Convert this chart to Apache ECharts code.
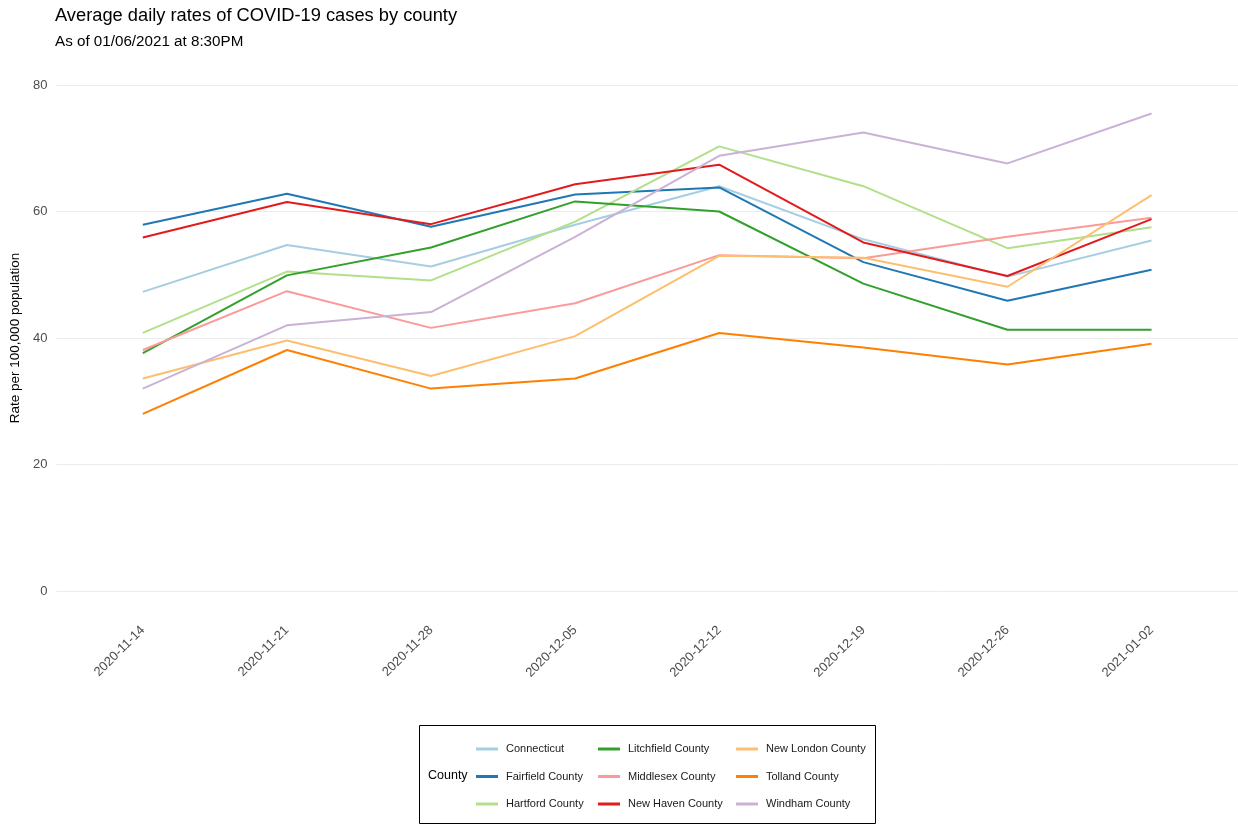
<!DOCTYPE html>
<html>
<head>
<meta charset="utf-8">
<script src="https://cdn.jsdelivr.net/npm/echarts@6/dist/echarts.min.js"></script>
<style>
  html, body { margin: 0; padding: 0; background: #fff; }
  #chart { width: 1238px; height: 825px; }
</style>
</head>
<body>
<div id="chart"></div>
<script>
// weeks on the x axis
var weeks = ['2020-11-14', '2020-11-21', '2020-11-28', '2020-12-05',
             '2020-12-12', '2020-12-19', '2020-12-26', '2021-01-02'];

var counties = ['Connecticut', 'Fairfield County', 'Hartford County',
                'Litchfield County', 'Middlesex County', 'New Haven County',
                'New London County', 'Tolland County', 'Windham County'];

var colors = ['#A6CEE3', '#1F78B4', '#B2DF8A', '#33A02C', '#FB9A99',
              '#E31A1C', '#FDBF6F', '#FF7F00', '#CAB2D6'];

// rates per 100,000
var connecticut = [47.3, 54.7, 51.3, 57.9, 64.0, 55.6, 49.7, 55.4];
var fairfield   = [57.9, 62.8, 57.6, 62.7, 63.8, 52.0, 45.9, 50.8];
var hartford    = [40.8, 50.5, 49.1, 58.4, 70.3, 64.0, 54.2, 57.5];
var litchfield  = [37.6, 49.9, 54.3, 61.6, 60.0, 48.6, 41.3, 41.3];
var middlesex   = [38.1, 47.4, 41.6, 45.5, 53.1, 52.6, 56.0, 59.0];
var newHaven    = [55.9, 61.5, 58.0, 64.3, 67.4, 55.1, 49.8, 58.8];
var newLondon   = [33.6, 39.6, 34.0, 40.3, 53.0, 52.7, 48.1, 62.6];
var tolland     = [28.0, 38.1, 32.0, 33.6, 40.8, 38.5, 35.8, 39.1];
var windham     = [32.0, 42.0, 44.1, 56.0, 68.8, 72.5, 67.6, 75.5];

var values = [connecticut, fairfield, hartford, litchfield, middlesex,
              newHaven, newLondon, tolland, windham];

var yTicks = [0, 20, 40, 60, 80];

var series = [];
for (var i = 0; i < counties.length; i++) {
    series.push({
        name: counties[i],
        type: 'line',
        showSymbol: false,
        symbol: 'none',
        data: values[i].map(function (v, j) { return [j, v]; }),
        lineStyle: { color: colors[i], width: 2 },
        itemStyle: { color: colors[i] },
        emphasis: { disabled: true },
        z: 2 + i
    });
}

function legendColumn(names, left) {
    return {
        orient: 'vertical',
        left: left,
        top: 743,
        padding: 0,
        itemWidth: 22,
        itemHeight: 3,
        itemGap: 15.5,
        icon: 'rect',
        selectedMode: false,
        data: names,
        textStyle: { fontFamily: 'Liberation Sans', fontSize: 11, color: '#1a1a1a', lineHeight: 12, padding: [0, 0, 0, 3] }
    };
}

var chart = echarts.init(document.getElementById('chart'), null, { renderer: 'canvas' });

var option = {
    backgroundColor: '#ffffff',
    animation: false,
    color: colors,
    title: [{
        text: 'Average daily rates of COVID-19 cases by county',
        left: 55,
        top: 7,
        padding: 0,
        textStyle: { fontFamily: 'Liberation Sans', fontSize: 18.3, fontWeight: 'normal', color: '#000' }
    }, {
        text: 'As of 01/06/2021 at 8:30PM',
        left: 55,
        top: 34,
        padding: 0,
        textStyle: { fontFamily: 'Liberation Sans', fontSize: 15.2, fontWeight: 'normal', color: '#000' }
    }],
    grid: { left: 55, right: 0, top: 85, bottom: 234 },
    xAxis: {
        type: 'value',
        min: -0.6,
        max: 7.6,
        axisLine: { show: false },
        axisTick: { show: false },
        splitLine: { show: false },
        axisLabel: {
            customValues: [0, 1, 2, 3, 4, 5, 6, 7],
            formatter: function (v) { return weeks[Math.round(v)]; },
            rotate: 45,
            margin: 37,
            fontFamily: 'Liberation Sans',
            fontSize: 13,
            color: '#4D4D4D'
        }
    },
    yAxis: {
        type: 'value',
        min: yTicks[0],
        max: yTicks[yTicks.length - 1],
        interval: 20,
        name: 'Rate per 100,000 population',
        nameLocation: 'middle',
        nameGap: 31,
        nameTextStyle: { fontFamily: 'Liberation Sans', fontSize: 13.5, color: '#000' },
        axisLine: { show: false },
        axisTick: { show: false },
        splitLine: { lineStyle: { color: '#EBEBEB', width: 1 } },
        axisLabel: { margin: 9, fontFamily: 'Liberation Sans', fontSize: 13, color: '#4D4D4D' }
    },
    legend: [
        legendColumn(counties.slice(0, 3), 476),
        legendColumn(counties.slice(3, 6), 598),
        legendColumn(counties.slice(6, 9), 736)
    ],
    graphic: [{
        type: 'rect',
        shape: { x: 419.5, y: 725.5, width: 456, height: 98 },
        style: { fill: 'none', stroke: '#000', lineWidth: 1 }
    }, {
        type: 'text',
        x: 428,
        y: 776,
        style: {
            text: 'County',
            fontFamily: 'Liberation Sans',
            fontSize: 12.5,
            fill: '#000',
            textVerticalAlign: 'middle'
        }
    }],
    series: series
};

chart.setOption(option);
</script>
</body>
</html>
